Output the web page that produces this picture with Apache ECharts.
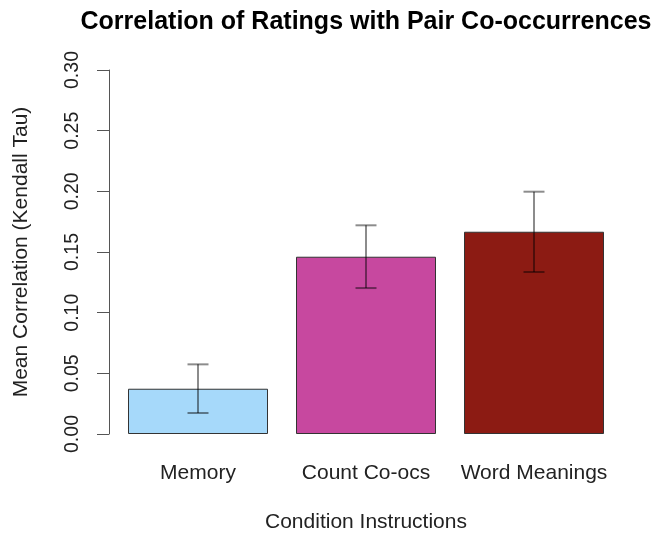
<!DOCTYPE html>
<html><head><meta charset="utf-8">
<script src="https://cdn.jsdelivr.net/npm/echarts@6/dist/echarts.min.js"></script>
<style>html,body{margin:0;padding:0;background:#fff}#c{width:664px;height:533px}</style>
</head><body><div id="c"></div>
<script>
const categories = ['Memory', 'Count Co-ocs', 'Word Meanings'];
const means = [0.0373, 0.1461, 0.1667];
const errLow = [0.0173, 0.1203, 0.1335];
const errHigh = [0.0574, 0.1720, 0.1997];
const barColors = ['#A6D9FA', '#C7489F', '#8C1B13'];
const yTicks = [0, 0.05, 0.10, 0.15, 0.20, 0.25, 0.30];

const chart = echarts.init(document.getElementById('c'), null, {renderer: 'canvas'});
const font = 'Liberation Sans, Arial, Helvetica, sans-serif';
chart.setOption({
  animation: false,
  backgroundColor: '#fff',
  title: {
    text: 'Correlation of Ratings with Pair Co-occurrences',
    left: 361, top: 5, textAlign: 'center',
    textStyle: {fontFamily: font, fontWeight: 'bold', fontSize: 25, color: '#000'}
  },
  grid: {left: 114, right: 46, top: 70, bottom: 99, outerBoundsMode: 'none', containLabel: false},
  xAxis: {
    type: 'category', data: categories,
    axisLine: {show: false}, axisTick: {show: false},
    axisLabel: {interval: 0, margin: 29, fontFamily: font, fontSize: 21, color: '#222'},
    name: 'Condition Instructions', nameLocation: 'middle', nameGap: 78,
    nameTextStyle: {fontFamily: font, fontSize: 21, color: '#222'}
  },
  yAxis: {
    type: 'value', min: yTicks[0], max: yTicks[yTicks.length - 1], interval: 0.05,
    offset: 5,
    axisLine: {show: true, lineStyle: {color: '#555', width: 1}},
    axisTick: {show: true, length: 12, lineStyle: {color: '#555'}},
    splitLine: {show: false},
    axisLabel: {rotate: 90, margin: 26, fontFamily: font, fontSize: 19.5, color: '#222',
      formatter: v => v.toFixed(2)},
    name: 'Mean Correlation (Kendall Tau)', nameLocation: 'middle', nameGap: 77,
    nameTextStyle: {fontFamily: font, fontSize: 21, color: '#222'}
  },
  series: [
    {
      type: 'bar', barWidth: 140,
      data: means.map((v, i) => ({value: v, itemStyle: {color: barColors[i]}})),
      itemStyle: {borderColor: '#333', borderWidth: 1}
    },
    {
      type: 'custom',
      data: categories.map((c, i) => [i, errLow[i], errHigh[i]]),
      z: 10,
      renderItem: function (params, api) {
        const lo = api.coord([api.value(0), api.value(1)]);
        const hi = api.coord([api.value(0), api.value(2)]);
        const hw = 10.5;
        const st = {stroke: 'rgba(0,0,0,0.45)', lineWidth: 2};
        return {type: 'group', children: [
          {type: 'line', shape: {x1: lo[0], y1: lo[1], x2: hi[0], y2: hi[1]}, style: st},
          {type: 'line', shape: {x1: lo[0] - hw, y1: lo[1], x2: lo[0] + hw, y2: lo[1]}, style: st},
          {type: 'line', shape: {x1: hi[0] - hw, y1: hi[1], x2: hi[0] + hw, y2: hi[1]}, style: st}
        ]};
      }
    }
  ]
});
</script></body></html>
